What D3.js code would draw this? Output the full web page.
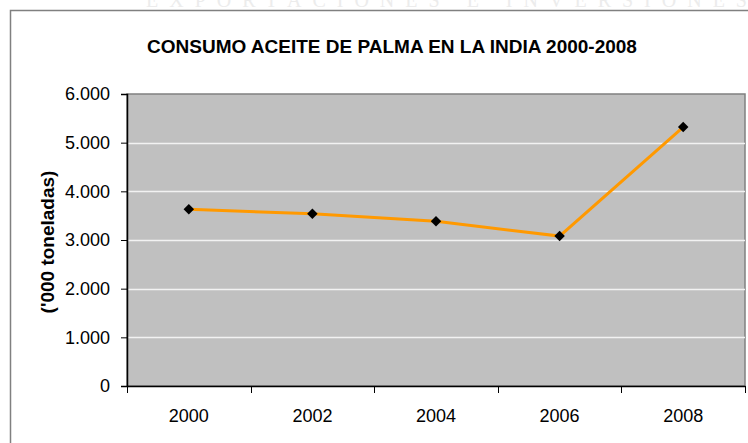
<!DOCTYPE html>
<meta charset="utf-8">
<head>
<style>
html, body{margin:0px; padding:0px; background:white;}
text{font-family: "Liberation Sans", Arial, sans-serif;}
</style>
</head>
<script src="https://d3js.org/d3.v7.min.js"></script>

<div id="my_dataviz"></div>

<script>

// data
var years = ["2000", "2002", "2004", "2006", "2008"]
var consumo = [3630, 3540, 3385, 3080, 5320]
var yTicks = [0, 1000, 2000, 3000, 4000, 5000, 6000]

var W = 748, H = 443
var margin = {top: 94, right: 3, bottom: 57, left: 127},
  width = W - margin.left - margin.right,
  height = H - margin.top - margin.bottom

var root = d3.select("#my_dataviz")
  .append("svg")
    .attr("width", W)
    .attr("height", H)

// faint watermark, cut off at the top like in the scan
root.append("text")
  .attr("x", 452)
  .attr("y", 7)
  .attr("text-anchor", "middle")
  .style("font-size", "20px")
  .style("font-family", "'Liberation Serif', serif")
  .style("letter-spacing", "11px")
  .style("fill", "#ececec")
  .text("EXPORTACIONES E INVERSIONES")

// chart frame
root.append("path")
  .attr("d", "M10.5," + H + "V10.5H" + W)
  .style("fill", "none")
  .style("stroke", "#808080")
  .style("stroke-width", 1.5)

// title
root.append("text")
  .attr("x", 392)
  .attr("y", 53)
  .attr("text-anchor", "middle")
  .style("font-size", "19px")
  .style("font-weight", "bold")
  .text("CONSUMO ACEITE DE PALMA EN LA INDIA 2000-2008")

// y label
root.append("text")
  .attr("transform", "translate(54,242) rotate(-90)")
  .attr("text-anchor", "middle")
  .style("font-size", "19px")
  .style("font-weight", "bold")
  .text("('000 toneladas)")

var svg = root.append("g")
  .attr("transform", "translate(" + margin.left + "," + margin.top + ")")

var x = d3.scaleBand()
  .range([0, width])
  .domain(years)

var y = d3.scaleLinear()
  .domain([0, 6000])
  .range([height, 0])

// plot area
svg.append("rect")
  .attr("x", 0)
  .attr("y", 0)
  .attr("width", width)
  .attr("height", height)
  .style("fill", "#c0c0c0")
  .style("stroke", "#808080")
  .style("stroke-width", 1.5)

// gridlines
svg.selectAll(".grid")
  .data(yTicks.filter(function(d){ return d > 0 && d < 6000 }))
  .enter()
  .append("line")
    .attr("x1", 0)
    .attr("x2", width)
    .attr("y1", function(d){ return Math.round(y(d)) + 0.5 })
    .attr("y2", function(d){ return Math.round(y(d)) + 0.5 })
    .style("stroke", "#f2f2f2")
    .style("stroke-width", 1.5)

// y axis
var yAxis = svg.append("g")
  .call(d3.axisLeft(y)
    .tickValues(yTicks)
    .tickSize(6)
    .tickPadding(11)
    .tickFormat(function(d){ return d === 0 ? "0" : d3.format(",")(d).replace(",", ".") }))
yAxis.select(".domain").style("stroke", "#000").style("stroke-width", 1.5)
yAxis.selectAll("text").style("font-size", "18px").style("fill", "#000")
  .attr("font-family", null)

// x axis, ticks between categories
var xAxis = svg.append("g")
  .attr("transform", "translate(0," + height + ")")
  .call(d3.axisBottom(x).tickSize(0).tickPadding(23))
xAxis.select(".domain").style("stroke", "#000").style("stroke-width", 1.5)
xAxis.selectAll("text").style("font-size", "18px").style("fill", "#000")
  .attr("font-family", null)

var bounds = years.map(function(d){ return x(d) }).concat([width])
xAxis.selectAll(".sep")
  .data(bounds)
  .enter()
  .append("line")
    .attr("x1", function(d){ return Math.round(d) + 0.5 })
    .attr("x2", function(d){ return Math.round(d) + 0.5 })
    .attr("y1", 0)
    .attr("y2", 7)
    .style("stroke", "#000")

// the line
var line = d3.line()
  .x(function(d, i){ return x(years[i]) + x.bandwidth() / 2 })
  .y(function(d){ return y(d) })

svg.append("path")
  .datum(consumo)
  .attr("d", line)
  .style("fill", "none")
  .style("stroke", "#ff9900")
  .style("stroke-width", 3)

// diamond markers
svg.selectAll(".pt")
  .data(consumo)
  .enter()
  .append("path")
    .attr("d", d3.symbol().type(d3.symbolDiamond2).size(70))
    .attr("transform", function(d, i){
      return "translate(" + (x(years[i]) + x.bandwidth() / 2) + "," + y(d) + ")" })
    .style("fill", "#000")

</script>
</html>
